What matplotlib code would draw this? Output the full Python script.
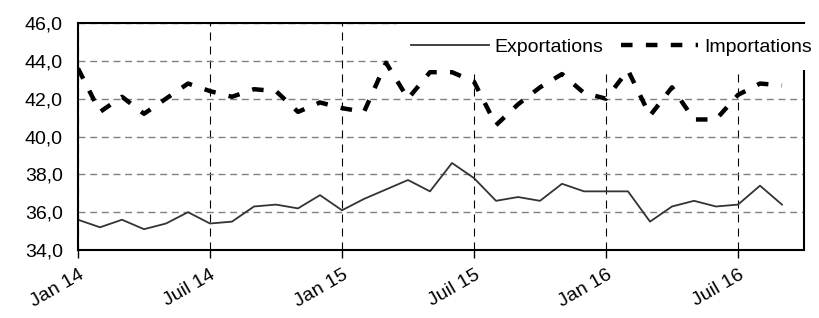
import matplotlib.pyplot as plt
from matplotlib.ticker import FuncFormatter

# monthly values, Jan 14 -> Sep 16
exportations = [35.6, 35.2, 35.6, 35.1, 35.4, 36.0, 35.4, 35.5, 36.3, 36.4, 36.2,
                36.9, 36.1, 36.7, 37.2, 37.7, 37.1, 38.6, 37.8, 36.6, 36.8, 36.6,
                37.5, 37.1, 37.1, 37.1, 35.5, 36.3, 36.6, 36.3, 36.4, 37.4, 36.4]
importations = [43.6, 41.3, 42.1, 41.2, 42.0, 42.8, 42.4, 42.1, 42.5, 42.4, 41.3,
                41.8, 41.5, 41.3, 43.9, 42.0, 43.4, 43.4, 42.9, 40.6, 41.7, 42.6,
                43.3, 42.3, 42.0, 43.5, 41.1, 42.6, 40.9, 40.9, 42.2, 42.8, 42.7]
tick_pos = [0, 6, 12, 18, 24, 30]
tick_labels = ["Jan 14", "Juil 14", "Jan 15", "Juil 15", "Jan 16", "Juil 16"]

plt.rcParams['font.family'] = ['Liberation Sans', 'DejaVu Sans']
plt.rcParams['font.size'] = 14

fig = plt.figure(figsize=(8.2, 3.18), dpi=100)
ax = fig.add_axes([78 / 820, 1 - 250 / 318, 726 / 820, 227 / 318])

months = list(range(len(exportations)))
ax.plot(months, exportations, color='#333333', lw=1.3, label='Exportations')
ax.plot(months, importations, color='black', lw=3.2, label='Importations',
        linestyle=(0, (2.6, 3.0)), dash_capstyle='butt')

ax.set_xlim(0, 33)
ax.set_ylim(34, 46)
ax.set_yticks([34, 36, 38, 40, 42, 44, 46])
ax.yaxis.set_major_formatter(FuncFormatter(lambda v, p: f"{v:.1f}".replace('.', ',')))
ax.set_xticks(tick_pos)
ax.set_xticklabels(tick_labels, rotation=30, ha='right', va='top', rotation_mode='anchor')

ax.tick_params(axis='y', length=0, pad=11)
ax.tick_params(axis='x', length=6, width=1, direction='out', pad=6)

ax.set_axisbelow(True)
ax.yaxis.grid(True, color='#808080', lw=1.0, linestyle=(0, (5, 3.4)))
ax.xaxis.grid(True, color='black', lw=0.8, linestyle=(0, (7.2, 5.4)))

for s in ax.spines.values():
    s.set_linewidth(1.5)

leg = ax.legend(loc='upper right', bbox_to_anchor=(826 / 820, 1 - 24 / 318),
                bbox_transform=fig.transFigure, ncol=2, frameon=True,
                facecolor='white', edgecolor='none', fancybox=False, framealpha=1,
                handlelength=4.0, handletextpad=0.3, columnspacing=0.87,
                borderpad=0.72, borderaxespad=0)

fig.savefig('out.png', dpi=100)
